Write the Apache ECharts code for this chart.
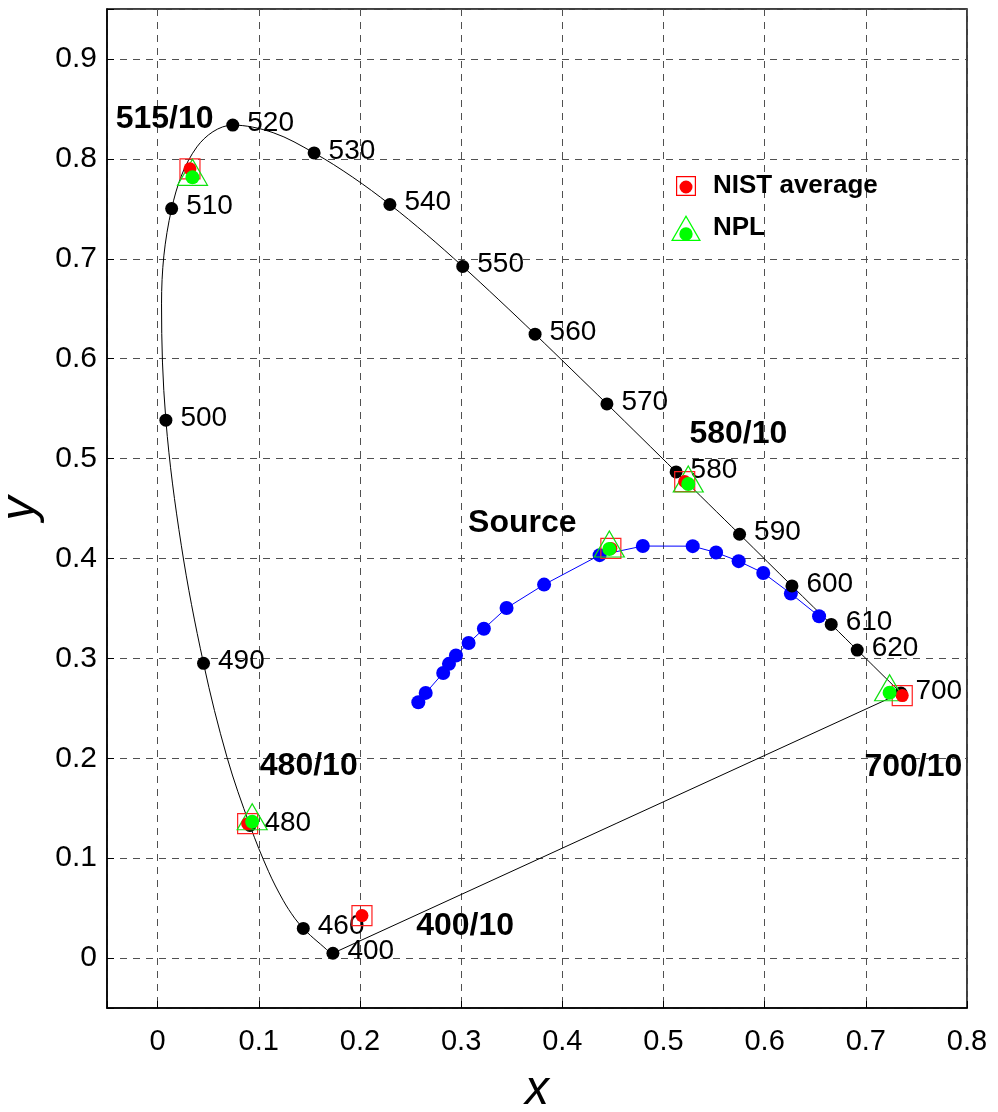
<!DOCTYPE html>
<html>
<head>
<meta charset="utf-8">
<script src="https://cdn.jsdelivr.net/npm/echarts@6/dist/echarts.min.js"></script>
<style>
  html, body { margin: 0; padding: 0; background: #fff; }
  #chart { width: 998px; height: 1112px; }
</style>
</head>
<body>
<div id="chart"></div>
<script>
// spectral locus, 5 nm steps 400..700 nm
const locusWl = [400,405,410,415,420,425,430,435,440,445,450,455,460,465,470,475,480,485,490,495,
  500,505,510,515,520,525,530,535,540,545,550,555,560,565,570,575,580,585,590,595,
  600,605,610,615,620,625,630,635,640,645,650,655,660,665,670,675,680,685,690,695,700];
const locusX = [0.1733,0.1730,0.1726,0.1721,0.1714,0.1703,0.1689,0.1669,0.1644,0.1611,0.1566,0.1510,0.1440,0.1355,0.1241,0.1096,0.0913,0.0687,0.0454,0.0235,
  0.0082,0.0039,0.0139,0.0389,0.0743,0.1142,0.1547,0.1929,0.2296,0.2658,0.3016,0.3373,0.3731,0.4087,0.4441,0.4788,0.5125,0.5448,0.5752,0.6029,
  0.6270,0.6482,0.6658,0.6801,0.6915,0.7006,0.7079,0.7140,0.7190,0.7230,0.7260,0.7283,0.7300,0.7311,0.7320,0.7327,0.7334,0.7340,0.7344,0.7346,0.7347];
const locusY = [0.0048,0.0048,0.0048,0.0048,0.0051,0.0058,0.0069,0.0086,0.0109,0.0138,0.0177,0.0227,0.0297,0.0399,0.0578,0.0868,0.1327,0.2007,0.2950,0.4127,
  0.5384,0.6548,0.7502,0.8120,0.8338,0.8262,0.8059,0.7816,0.7543,0.7243,0.6923,0.6589,0.6245,0.5896,0.5547,0.5202,0.4866,0.4544,0.4242,0.3965,
  0.3725,0.3514,0.3340,0.3197,0.3083,0.2993,0.2920,0.2859,0.2809,0.2770,0.2740,0.2717,0.2700,0.2689,0.2680,0.2673,0.2666,0.2660,0.2656,0.2654,0.2653];

// wavelengths marked with a dot and a label
const markWl = [400,460,480,490,500,510,520,530,540,550,560,570,580,590,600,610,620,700];

// source chromaticities (blue)
const sourceX = [0.2577,0.2650,0.2823,0.2880,0.2949,0.3074,0.3225,0.3449,0.3820,0.4369,0.4796,0.5289,0.5520,0.5743,0.5986,0.6259,0.6538];
const sourceY = [0.2560,0.2654,0.2854,0.2945,0.3029,0.3153,0.3296,0.3504,0.3738,0.4033,0.4124,0.4123,0.4059,0.3973,0.3855,0.3648,0.3421];

// filter measurements: 515/10, 580/10, Source, 700/10, 480/10, 400/10
const nistX = [0.0320,0.5210,0.4480,0.7360,0.0890,0.2020];
const nistY = [0.7900,0.4770,0.4100,0.2627,0.1345,0.0425];
const nplX = [0.0345,0.5245,0.4465,0.7235,0.0935];
const nplY = [0.7815,0.4745,0.4095,0.2655,0.1365];

// bold annotations
const noteText = ['515/10','580/10','Source','700/10','480/10','400/10'];
const noteX = [0.0069,0.5740,0.3605,0.7470,0.1494,0.3040];
const noteY = [0.8394,0.5241,0.4357,0.1908,0.1923,0.0321];

const FONT = '"Liberation Sans", Arial, Helvetica, sans-serif';

const zip = (xs, ys) => xs.map((x, i) => [x, ys[i]]);
const locus = zip(locusX, locusY);
const marks = markWl.map(w => {
  const i = locusWl.indexOf(w);
  return [locusX[i], locusY[i], w];
});
const last = locus.length - 1;

const tickFmt = v => {
  const r = Math.round(v * 10) / 10;
  return Math.abs(v - r) < 1e-6 ? String(r) : '';
};

// legend icons: outline shape + filled dot, in a 44x28 box
const nistIcon = 'path://M0,0L0,0M44,28L44,28' +
  'M12,4L32,4L32,24L12,24Z M13.2,5.2L13.2,22.8L30.8,22.8L30.8,5.2Z' +
  'M28.5,15A6.5,6.5 0 1 1 15.5,15A6.5,6.5 0 1 1 28.5,15Z';
const nplIcon = 'path://M0,0L0,0M44,28L44,28' +
  'M22,1L37,27L7,27Z M22,3.4L9.2,25.8L34.8,25.8Z' +
  'M28.7,20A6.7,6.7 0 1 1 15.3,20A6.7,6.7 0 1 1 28.7,20Z';

const axisCommon = {
  type: 'value',
  splitNumber: 9,
  minInterval: 0.1,
  maxInterval: 0.1,
  axisLine: { show: true, onZero: false, lineStyle: { color: '#000', width: 1.5 } },
  axisTick: { show: true, inside: true, length: 7, lineStyle: { color: '#000' } },
  splitLine: { show: true, lineStyle: { color: '#505050', width: 1, type: [7, 6] } },
  nameTextStyle: { fontFamily: FONT, fontStyle: 'italic', fontSize: 48, color: '#000' }
};

const chart = echarts.init(document.getElementById('chart'));
chart.setOption({
  animation: false,
  backgroundColor: '#fff',
  textStyle: { fontFamily: FONT },
  grid: {
    left: 107, right: 31, top: 9, bottom: 104,
    containLabel: false, outerBoundsMode: 'none',
    show: true, borderColor: '#000', borderWidth: 1.5
  },
  legend: {
    orient: 'vertical',
    left: 659,
    top: 167,
    itemWidth: 44,
    itemHeight: 28,
    itemGap: 14,
    selectedMode: false,
    textStyle: { fontFamily: FONT, fontWeight: 'bold', fontSize: 26, color: '#000' },
    data: [
      { name: 'NIST average', icon: nistIcon },
      { name: 'NPL', icon: nplIcon }
    ]
  },
  xAxis: Object.assign({}, axisCommon, {
    min: -0.05, max: 0.8,
    name: 'x', nameLocation: 'middle', nameGap: 59,
    axisLabel: { formatter: tickFmt, fontSize: 29, color: '#000', fontFamily: FONT, margin: 19 }
  }),
  yAxis: Object.assign({}, axisCommon, {
    min: -0.05, max: 0.95,
    splitNumber: 10,
    name: 'y', nameLocation: 'middle', nameGap: 58,
    axisLabel: { formatter: tickFmt, fontSize: 30, color: '#000', fontFamily: FONT, margin: 10 }
  }),
  series: [
    {
      name: 'locus', type: 'line', data: locus, showSymbol: false, silent: true, smooth: 0.35,
      lineStyle: { color: '#000', width: 1 }, z: 2
    },
    {
      name: 'purple line', type: 'line', data: [locus[last], locus[0]], showSymbol: false, silent: true,
      lineStyle: { color: '#000', width: 1 }, z: 2
    },
    {
      name: 'Source', type: 'line', data: zip(sourceX, sourceY), symbol: 'circle', symbolSize: 14,
      itemStyle: { color: '#0000ff', opacity: 1 }, lineStyle: { color: '#0000ff', width: 1 }, z: 3
    },
    {
      name: 'wavelength', type: 'scatter', data: marks, symbol: 'circle', symbolSize: 13,
      itemStyle: { color: '#000', opacity: 1 }, z: 4,
      label: {
        show: true, position: 'right', distance: 8, offset: [0, -2],
        formatter: p => String(p.data[2]),
        fontFamily: FONT, fontSize: 28, color: '#000', opacity: 1, textBorderWidth: 0
      }
    },
    {
      name: 'NIST box', type: 'scatter', data: zip(nistX, nistY), symbol: 'rect', symbolSize: 20,
      itemStyle: { color: 'rgba(0,0,0,0)', borderColor: '#ff2020', borderWidth: 1.2, opacity: 1 }, z: 5
    },
    {
      name: 'NPL box', type: 'scatter', data: zip(nplX, nplY), symbol: 'triangle', symbolSize: [30, 26],
      symbolOffset: [0, -5],
      itemStyle: { color: 'rgba(0,0,0,0)', borderColor: '#10e010', borderWidth: 1.2, opacity: 1 }, z: 6
    },
    {
      name: 'NIST average', type: 'scatter', data: zip(nistX, nistY), symbol: 'circle', symbolSize: 13,
      itemStyle: { color: '#ff0000', opacity: 1 }, z: 7
    },
    {
      name: 'NPL', type: 'scatter', data: zip(nplX, nplY), symbol: 'circle', symbolSize: 14,
      itemStyle: { color: '#00ff00', opacity: 1 }, z: 8
    },
    {
      name: 'notes', type: 'scatter', data: zip(noteX, noteY), symbolSize: 0, silent: true, z: 9,
      itemStyle: { opacity: 1 },
      label: {
        show: true, position: 'inside',
        formatter: p => noteText[p.dataIndex],
        fontFamily: FONT, fontWeight: 'bold', fontSize: 32, color: '#000', opacity: 1, textBorderWidth: 0
      }
    }
  ]
});
</script>
</body>
</html>
